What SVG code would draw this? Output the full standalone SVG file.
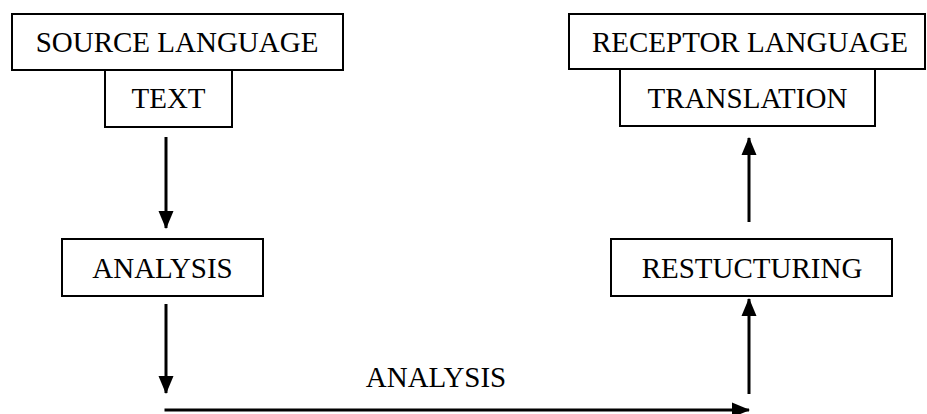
<svg xmlns="http://www.w3.org/2000/svg" width="927" height="414" viewBox="0 0 927 414">
<style>
.box{fill:#fff;stroke:#000;stroke-width:2}
.lbl{font-family:"Liberation Serif","Times New Roman",serif;font-size:29px;fill:#000;text-anchor:middle}
.con{stroke:#000;stroke-width:3;fill:none}
</style>
<defs>
<marker id="ah" markerUnits="userSpaceOnUse" markerWidth="18" markerHeight="18" viewBox="0 0 18 18" refX="17" refY="9" orient="auto">
<path d="M0,1.5 L18,9 L0,16.5 Z" fill="#000"/>
</marker>
</defs>
<rect width="927" height="414" fill="#fff"/>
<g id="source-language">
<rect class="box" x="12" y="14" width="331" height="56"/>
<text class="lbl" x="177" y="52">SOURCE LANGUAGE</text>
</g>
<g id="text">
<rect class="box" x="105" y="70" width="127" height="57"/>
<text class="lbl" x="168.5" y="108">TEXT</text>
</g>
<g id="analysis">
<rect class="box" x="62" y="239" width="201" height="57"/>
<text class="lbl" x="162.5" y="278">ANALYSIS</text>
</g>
<g id="restructuring">
<rect class="box" x="611" y="239" width="281" height="57"/>
<text class="lbl" x="752" y="278">RESTUCTURING</text>
</g>
<g id="receptor-language">
<rect class="box" x="569" y="14" width="356" height="55"/>
<text class="lbl" x="750" y="52">RECEPTOR LANGUAGE</text>
</g>
<g id="translation">
<rect class="box" x="620" y="69" width="255" height="57"/>
<text class="lbl" x="747.5" y="108">TRANSLATION</text>
</g>
<g id="connectors">
<line class="con" x1="166" y1="137" x2="166" y2="228" marker-end="url(#ah)"/>
<line class="con" x1="166" y1="304" x2="166" y2="393" marker-end="url(#ah)"/>
<line class="con" x1="164.5" y1="410" x2="749" y2="410" marker-end="url(#ah)"/>
<line class="con" x1="749" y1="394" x2="749" y2="299" marker-end="url(#ah)"/>
<line class="con" x1="749" y1="222" x2="749" y2="138" marker-end="url(#ah)"/>
<text class="lbl" x="436" y="387">ANALYSIS</text>
</g>
</svg>
